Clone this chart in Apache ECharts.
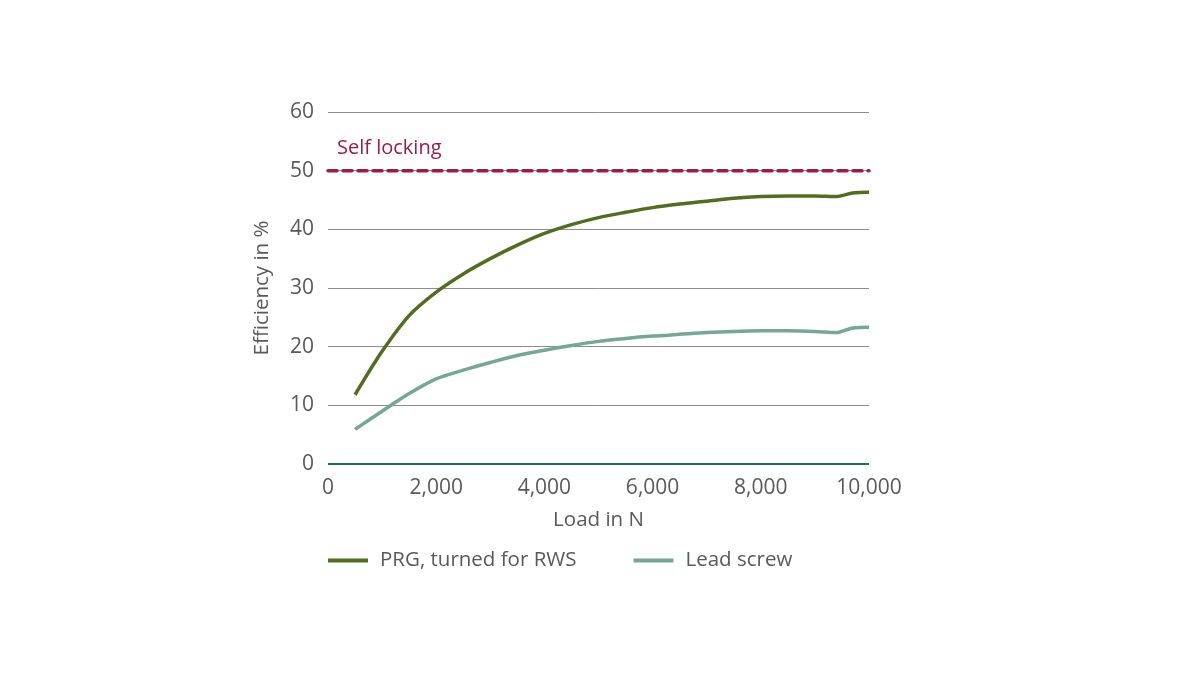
<!DOCTYPE html>
<html>
<head>
<meta charset="utf-8">
<script src="https://cdn.jsdelivr.net/npm/echarts@6/dist/echarts.min.js"></script>
<style>
  html, body { margin: 0; padding: 0; background: #fff; }
  #chart { width: 1200px; height: 675px; }
</style>
</head>
<body>
<div id="chart"></div>
<script>
// load in N
const loads = [500, 1000, 1500, 2000, 2500, 3000, 3500, 4000, 4500, 5000, 5500,
  6000, 6500, 7000, 7500, 8000, 8500, 9000, 9400, 9700, 10000];
// efficiency in %
const prgValues = [11.8, 19.2, 25.3, 29.3, 32.4, 35.0, 37.3, 39.3, 40.8, 42.0, 42.9,
  43.7, 44.3, 44.8, 45.3, 45.6, 45.7, 45.7, 45.6, 46.2, 46.3];
const leadValues = [5.9, 9.0, 12.0, 14.5, 16.0, 17.3, 18.5, 19.4, 20.2, 20.9, 21.4,
  21.8, 22.1, 22.4, 22.6, 22.7, 22.7, 22.6, 22.4, 23.2, 23.3];
const selfLockingLevel = 50;
const seriesNames = ['PRG, turned for RWS', 'Lead screw'];

const font = '"Open Sans", "Liberation Sans", sans-serif';
const textColor = '#595959';

function toPairs(xs, ys) {
  return xs.map((x, i) => [x, ys[i]]);
}

const myChart = echarts.init(document.getElementById('chart'));

const option = {
  backgroundColor: '#fff',
  animation: false,
  grid: { left: 328, right: 331, top: 112, bottom: 211 },
  legend: {
    data: seriesNames,
    left: 323,
    top: 545,
    icon: 'rect',
    itemWidth: 40,
    itemHeight: 4,
    itemGap: 57,
    textStyle: { fontFamily: font, fontSize: 20.5, color: textColor, padding: [0, 0, 0, 7] }
  },
  xAxis: {
    type: 'value',
    min: 0,
    max: 10000,
    interval: 2000,
    name: 'Load in N',
    nameLocation: 'middle',
    nameGap: 46,
    nameTextStyle: { fontFamily: font, fontSize: 20.5, color: textColor },
    axisLine: { show: false },
    axisTick: { show: false },
    splitLine: { show: false },
    axisLabel: {
      fontFamily: font, fontSize: 21, color: textColor, margin: 14,
      formatter: v => v.toLocaleString('en-US')
    }
  },
  yAxis: {
    type: 'value',
    min: 0,
    max: 60,
    interval: 10,
    name: 'Efficiency in %',
    nameLocation: 'middle',
    nameGap: 55,
    nameTextStyle: { fontFamily: font, fontSize: 20.5, color: textColor },
    axisLine: { show: false },
    axisTick: { show: false },
    axisLabel: { fontFamily: font, fontSize: 21, color: textColor, margin: 14 },
    splitLine: { lineStyle: { color: '#8c8c8c', width: 1 } }
  },
  series: [
    {
      name: 'Self locking',
      type: 'line',
      data: [[0, selfLockingLevel], [10000, selfLockingLevel]],
      showSymbol: false,
      silent: true,
      lineStyle: { color: '#9b1d45', width: 3.5, type: [9, 6], cap: 'round' },
      markLine: {
        silent: true,
        symbol: 'none',
        label: { show: false },
        lineStyle: { color: '#1f6b5d', width: 2, type: 'solid' },
        data: [{ yAxis: 0 }]
      },
      z: 3
    },
    {
      name: seriesNames[0],
      type: 'line',
      data: toPairs(loads, prgValues),
      smooth: 0.3,
      showSymbol: false,
      lineStyle: { color: '#526c24', width: 3.5 },
      itemStyle: { color: '#526c24' },
      z: 4
    },
    {
      name: seriesNames[1],
      type: 'line',
      data: toPairs(loads, leadValues),
      smooth: 0.3,
      showSymbol: false,
      lineStyle: { color: '#78a696', width: 3.5 },
      itemStyle: { color: '#78a696' },
      z: 4
    }
  ],
  graphic: [{
    type: 'text',
    left: 337,
    top: 138,
    style: { text: 'Self locking', fontFamily: font, fontSize: 20, fill: '#9b1d45' }
  }]
};

myChart.setOption(option);
window.addEventListener('resize', () => myChart.resize());
</script>
</body>
</html>
